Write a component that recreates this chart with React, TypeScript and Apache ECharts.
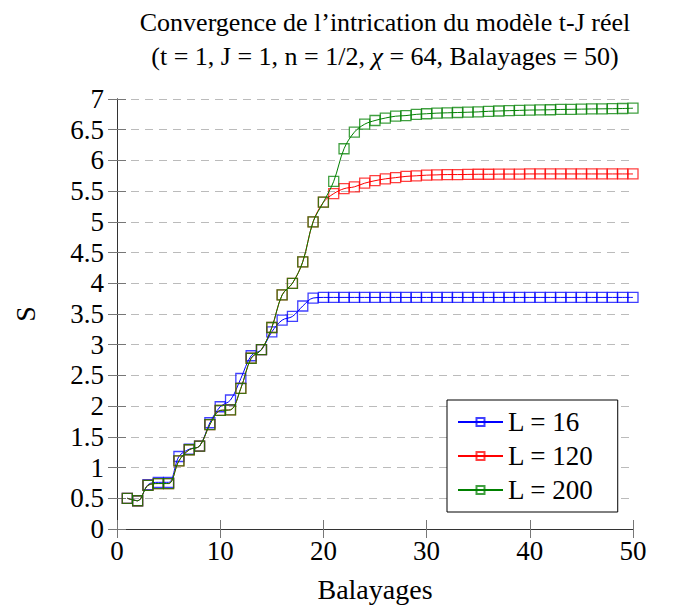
import React, { useEffect, useRef } from 'react';
import * as echarts from 'echarts';

const sweeps = [1, 2, 3, 4, 5, 6, 7, 8, 9, 10, 11, 12, 13, 14, 15, 16, 17, 18, 19, 20, 21, 22, 23, 24, 25, 26, 27, 28, 29, 30, 31, 32, 33, 34, 35, 36, 37, 38, 39, 40, 41, 42, 43, 44, 45, 46, 47, 48, 49, 50];

const sL16 = [0.50, 0.46, 0.72, 0.76, 0.76, 1.18, 1.30, 1.35, 1.73, 1.99, 2.10, 2.45, 2.82, 2.92, 3.21, 3.40, 3.46, 3.63, 3.76, 3.77, 3.77, 3.77, 3.77, 3.77, 3.77, 3.77, 3.77, 3.77, 3.77, 3.77, 3.77, 3.77, 3.77, 3.77, 3.77, 3.77, 3.77, 3.77, 3.77, 3.77, 3.77, 3.77, 3.77, 3.77, 3.77, 3.77, 3.77, 3.77, 3.77, 3.77];

const sL120 = [0.50, 0.46, 0.71, 0.74, 0.74, 1.11, 1.29, 1.35, 1.70, 1.93, 1.94, 2.29, 2.78, 2.92, 3.28, 3.81, 4.00, 4.35, 5.00, 5.32, 5.46, 5.54, 5.57, 5.63, 5.67, 5.70, 5.72, 5.74, 5.75, 5.76, 5.765, 5.77, 5.77, 5.772, 5.775, 5.775, 5.777, 5.778, 5.778, 5.78, 5.78, 5.78, 5.78, 5.78, 5.78, 5.78, 5.78, 5.78, 5.78, 5.78];

const sL200 = [0.50, 0.46, 0.71, 0.74, 0.74, 1.11, 1.29, 1.35, 1.70, 1.93, 1.94, 2.29, 2.78, 2.92, 3.28, 3.81, 4.00, 4.35, 5.00, 5.32, 5.66, 6.19, 6.46, 6.59, 6.65, 6.69, 6.72, 6.73, 6.75, 6.76, 6.77, 6.775, 6.78, 6.785, 6.79, 6.80, 6.805, 6.81, 6.815, 6.82, 6.822, 6.825, 6.83, 6.832, 6.835, 6.838, 6.84, 6.842, 6.845, 6.85];

const seriesNames = ['L = 16', 'L = 120', 'L = 200'];
const seriesColors = ['#0000ff', '#ff0000', '#008000'];
const seriesData = [sL16, sL120, sL200];

const FONT = 'Liberation Serif';

export default function App() {
  const ref = useRef<HTMLDivElement>(null);
  useEffect(() => {
    if (!ref.current) return;
    const chart = echarts.init(ref.current, null, { renderer: 'svg' });
    const axisCommon = {
      type: 'value' as const,
      axisLine: { show: true, lineStyle: { color: '#333', width: 1 } },
      axisTick: { show: true, inside: true, length: 9, lineStyle: { color: '#777' } },
    };
    chart.setOption({
      animation: false,
      backgroundColor: '#fff',
      textStyle: { fontFamily: FONT },
      title: {
        left: 380,
        top: 0,
        textAlign: 'center',
        text: '{a|Convergence de l’intrication du modèle t-J réel}\n{a|(t = 1, J = 1, n = 1/2, }{i|χ}{a| = 64, Balayages = 50)}',
        textStyle: {
          fontWeight: 'normal',
          rich: {
            a: { fontFamily: FONT, fontSize: 26, fontWeight: 'normal', color: '#000', lineHeight: 34 },
            i: { fontFamily: FONT, fontSize: 26, fontWeight: 'normal', color: '#000', fontStyle: 'italic', lineHeight: 34 },
          },
        },
      },
      legend: {
        left: 447,
        top: 400,
        orient: 'vertical',
        backgroundColor: '#fff',
        borderColor: '#000',
        borderWidth: 1,
        borderRadius: 0,
        padding: [8, 24, 8, 10],
        itemGap: 6,
        itemWidth: 45,
        itemHeight: 10,
        textStyle: { fontFamily: FONT, fontSize: 27, color: '#000', lineHeight: 28 },
        data: seriesNames,
      },
      grid: { left: 117, right: 44, top: 99, bottom: 79, containLabel: false },
      xAxis: [
        {
          ...axisCommon,
          min: 0,
          max: 50,
          interval: 10,
          position: 'bottom',
          name: 'Balayages',
          nameLocation: 'middle',
          nameGap: 46,
          nameTextStyle: { fontFamily: FONT, fontSize: 28, color: '#000' },
          axisLabel: { fontFamily: FONT, fontSize: 27, color: '#000', margin: 8 },
          splitLine: { show: false },
        },
        {
          ...axisCommon,
          min: 0,
          max: 50,
          interval: 10,
          position: 'top',
          axisLabel: { show: false },
          splitLine: { show: false },
        },
      ],
      yAxis: [
        {
          ...axisCommon,
          min: 0,
          max: 7,
          interval: 0.5,
          position: 'left',
          name: 'S',
          nameLocation: 'middle',
          nameGap: 78,
          nameTextStyle: { fontFamily: FONT, fontSize: 28, color: '#000' },
          axisLabel: { fontFamily: FONT, fontSize: 27, color: '#000', margin: 13 },
          splitLine: { show: true, lineStyle: { color: '#bbb', type: [8, 6], width: 1 } },
        },
        {
          ...axisCommon,
          min: 0,
          max: 7,
          interval: 0.5,
          position: 'right',
          axisLabel: { show: false },
          splitLine: { show: false },
        },
      ],
      series: seriesNames.map((name, k) => ({
        name,
        type: 'line',
        xAxisIndex: 0,
        yAxisIndex: 0,
        data: sweeps.map((x, i) => [x, seriesData[k][i]]),
        smooth: 0.35,
        symbol: 'rect',
        symbolSize: 10,
        showAllSymbol: true,
        lineStyle: { color: seriesColors[k], width: 1 },
        itemStyle: { color: 'rgba(255,255,255,0)', borderColor: seriesColors[k], borderWidth: 1.3, opacity: 0.75 },
        emphasis: { disabled: true },
        z: 2 + k,
      })),
    });
    return () => chart.dispose();
  }, []);
  return <div ref={ref} style={{ position: 'fixed', left: 0, top: 0, width: 677, height: 608 }} />;
}
